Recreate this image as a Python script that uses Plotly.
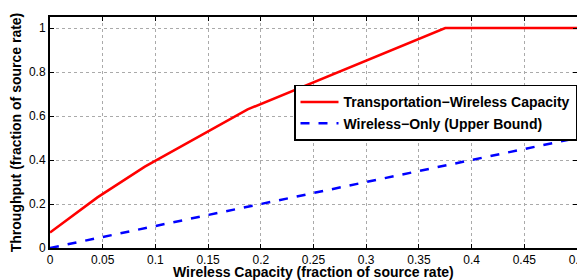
import plotly.graph_objects as go

cap_x = [0, 0.045, 0.09, 0.14, 0.1875, 0.375, 0.5]
transport_y = [0.07, 0.23, 0.37, 0.505, 0.63, 1.0, 1.0]
wireless_x = [0, 0.5]
wireless_y = [0, 0.5]
x_ticks = [0, 0.05, 0.1, 0.15, 0.2, 0.25, 0.3, 0.35, 0.4, 0.45, 0.5]
x_labels = ["0", "0.05", "0.1", "0.15", "0.2", "0.25", "0.3", "0.35", "0.4", "0.45", "0.5"]
y_ticks = [0, 0.2, 0.4, 0.6, 0.8, 1]
y_labels = ["0", "0.2", "0.4", "0.6", "0.8", "1"]
x_title = "Wireless Capacity (fraction of source rate)"
y_title = "Throughput (fraction of source rate)"

fig = go.Figure()
fig.add_trace(go.Scatter(x=cap_x, y=transport_y, mode="lines",
                         name="<b>Transportation\u2212Wireless Capacity</b>",
                         line=dict(color="#ff0000", width=2.5)))
fig.add_trace(go.Scatter(x=wireless_x, y=wireless_y, mode="lines",
                         name="<b>Wireless\u2212Only (Upper Bound)</b>",
                         line=dict(color="#0000ff", width=2.5, dash="dash")))

axis_common = dict(showline=True, linecolor="black", linewidth=2, mirror="ticks",
                   ticks="inside", ticklen=4, tickcolor="black",
                   showgrid=True, gridcolor="#aaaaaa", griddash="dot", gridwidth=1,
                   zeroline=False, tickfont=dict(size=12, color="black"),
                   automargin=False, ticklabeloverflow="allow")

fig.update_xaxes(range=[0, 0.5], tickvals=x_ticks, ticktext=x_labels, **axis_common)
fig.update_yaxes(range=[0, 1.05], tickvals=y_ticks, ticktext=y_labels,
                 title=dict(text="<b>" + y_title + "</b>",
                            font=dict(size=14, color="black"), standoff=4),
                 **axis_common)

fig.add_annotation(text="<b>" + x_title + "</b>", xref="paper", yref="paper",
                   x=0.5, y=0, xanchor="center", yanchor="top", yshift=-14,
                   showarrow=False, font=dict(size=14, color="black"))

fig.update_layout(
    width=577, height=272,
    margin=dict(l=42, r=8, t=9, b=32),
    plot_bgcolor="white", paper_bgcolor="white",
    font=dict(family="Liberation Sans, Arial, sans-serif", color="black"),
    legend=dict(x=1, y=0.706, xanchor="right", yanchor="top",
                bgcolor="white", bordercolor="black", borderwidth=1.5,
                font=dict(size=14, color="black"), tracegroupgap=0,
                itemwidth=38),
    showlegend=True,
)

fig.write_html("out.html")
